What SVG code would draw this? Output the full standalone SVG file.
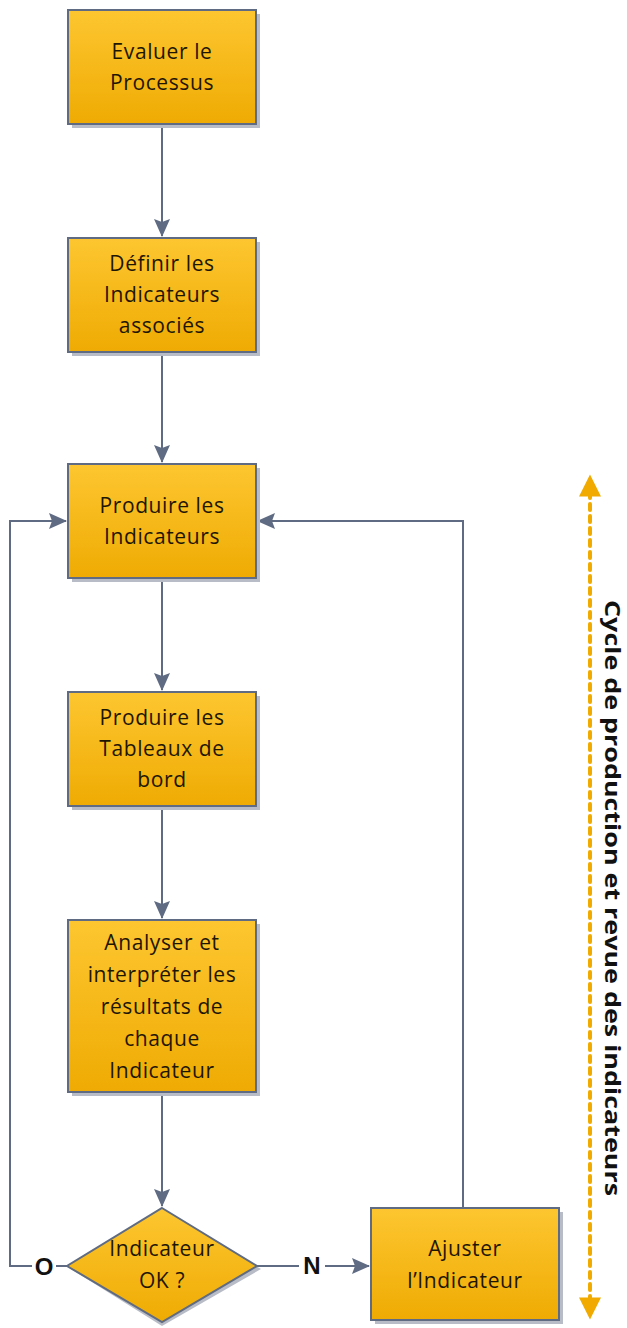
<svg xmlns="http://www.w3.org/2000/svg" width="627" height="1328" viewBox="0 0 627 1328">
<style>
.box{fill:url(#g);stroke:#5f6b82;stroke-width:2}
.sh{fill:#b8bcc6}
.t{font-family:"Open Sans","Liberation Sans",sans-serif;font-size:21px;letter-spacing:0.6px;fill:#1e1600;text-anchor:middle}
.c{fill:none;stroke:#5f6b82;stroke-width:2}
.lbl{font-family:"Liberation Sans",Arial,sans-serif;font-size:24px;font-weight:bold;fill:#111;text-anchor:middle}
</style>
<defs>
<linearGradient id="g" x1="0" y1="0" x2="0" y2="1">
<stop offset="0" stop-color="#fdc630"/>
<stop offset="1" stop-color="#efab03"/>
</linearGradient>
<marker id="a" viewBox="0 0 18 16" refX="17" refY="8" markerWidth="18" markerHeight="16" markerUnits="userSpaceOnUse" orient="auto">
<path d="M0,0 L18,8 L0,16 L3,8 Z" fill="#5f6b82"/>
</marker>
<marker id="o" viewBox="0 0 10 10" refX="2" refY="5" markerWidth="24" markerHeight="22" markerUnits="userSpaceOnUse" orient="auto-start-reverse">
<path d="M0,0 L10,5 L0,10 Z" fill="#f0aa00"/>
</marker>
</defs>
<g id="connectors">
<path class="c" d="M162,124 V236" style="marker-end:url(#a)"/>
<path class="c" d="M162,352 V462" style="marker-end:url(#a)"/>
<path class="c" d="M162,578 V690" style="marker-end:url(#a)"/>
<path class="c" d="M162,806 V918" style="marker-end:url(#a)"/>
<path class="c" d="M162,1092 V1206" style="marker-end:url(#a)"/>
<path class="c" d="M67,1266 H10 V521 H66" style="marker-end:url(#a)"/>
<path class="c" d="M257,1266 H369" style="marker-end:url(#a)"/>
<path class="c" d="M463,1208 V521 H258" style="marker-end:url(#a)"/>
<rect x="32" y="1252" width="24" height="28" fill="#fff"/>
<text class="lbl" x="44" y="1275">O</text>
<rect x="299" y="1252" width="26" height="28" fill="#fff"/>
<text class="lbl" x="312" y="1274">N</text>
</g>
<g id="n1">
<rect class="sh" x="72" y="14" width="188" height="114"/>
<rect class="box" x="68" y="10" width="188" height="114"/>
<text class="t" x="162" y="59">Evaluer le</text>
<text class="t" x="162" y="90">Processus</text>
</g>
<g id="n2">
<rect class="sh" x="72" y="242" width="188" height="114"/>
<rect class="box" x="68" y="238" width="188" height="114"/>
<text class="t" x="162" y="271">Définir les</text>
<text class="t" x="162" y="302">Indicateurs</text>
<text class="t" x="162" y="333">associés</text>
</g>
<g id="n3">
<rect class="sh" x="72" y="468" width="188" height="114"/>
<rect class="box" x="68" y="464" width="188" height="114"/>
<text class="t" x="162" y="513">Produire les</text>
<text class="t" x="162" y="544">Indicateurs</text>
</g>
<g id="n4">
<rect class="sh" x="72" y="696" width="188" height="114"/>
<rect class="box" x="68" y="692" width="188" height="114"/>
<text class="t" x="162" y="725">Produire les</text>
<text class="t" x="162" y="756">Tableaux de</text>
<text class="t" x="162" y="787">bord</text>
</g>
<g id="n5">
<rect class="sh" x="72" y="924" width="188" height="172"/>
<rect class="box" x="68" y="920" width="188" height="172"/>
<text class="t" x="162" y="950">Analyser et</text>
<text class="t" x="162" y="982">interpréter les</text>
<text class="t" x="162" y="1014">résultats de</text>
<text class="t" x="162" y="1046">chaque</text>
<text class="t" x="162" y="1078">Indicateur</text>
</g>
<g id="n6">
<path d="M162,1212 L261,1269 L162,1326 L71,1269 Z" fill="#b8bcc6"/>
<path class="box" d="M162,1208 L257,1266 L162,1322 L67,1266 Z"/>
<text class="t" x="162" y="1256">Indicateur</text>
<text class="t" x="162" y="1288">OK ?</text>
</g>
<g id="n7">
<rect class="sh" x="375" y="1212" width="188" height="112"/>
<rect class="box" x="371" y="1208" width="188" height="112"/>
<text class="t" x="465" y="1256">Ajuster</text>
<text class="t" x="465" y="1288">l’Indicateur</text>
</g>
<g id="cycle">
<path d="M590,492 V1302" fill="none" stroke="#f0aa00" stroke-width="4" stroke-dasharray="6,6" stroke-linecap="round" style="marker-start:url(#o);marker-end:url(#o)"/>
<text transform="translate(605,898) rotate(90)" font-family="'Open Sans','Liberation Sans',sans-serif" font-size="21" font-weight="bold" fill="#111" text-anchor="middle" textLength="596" lengthAdjust="spacingAndGlyphs">Cycle de production et revue des indicateurs</text>
</g>
</svg>
